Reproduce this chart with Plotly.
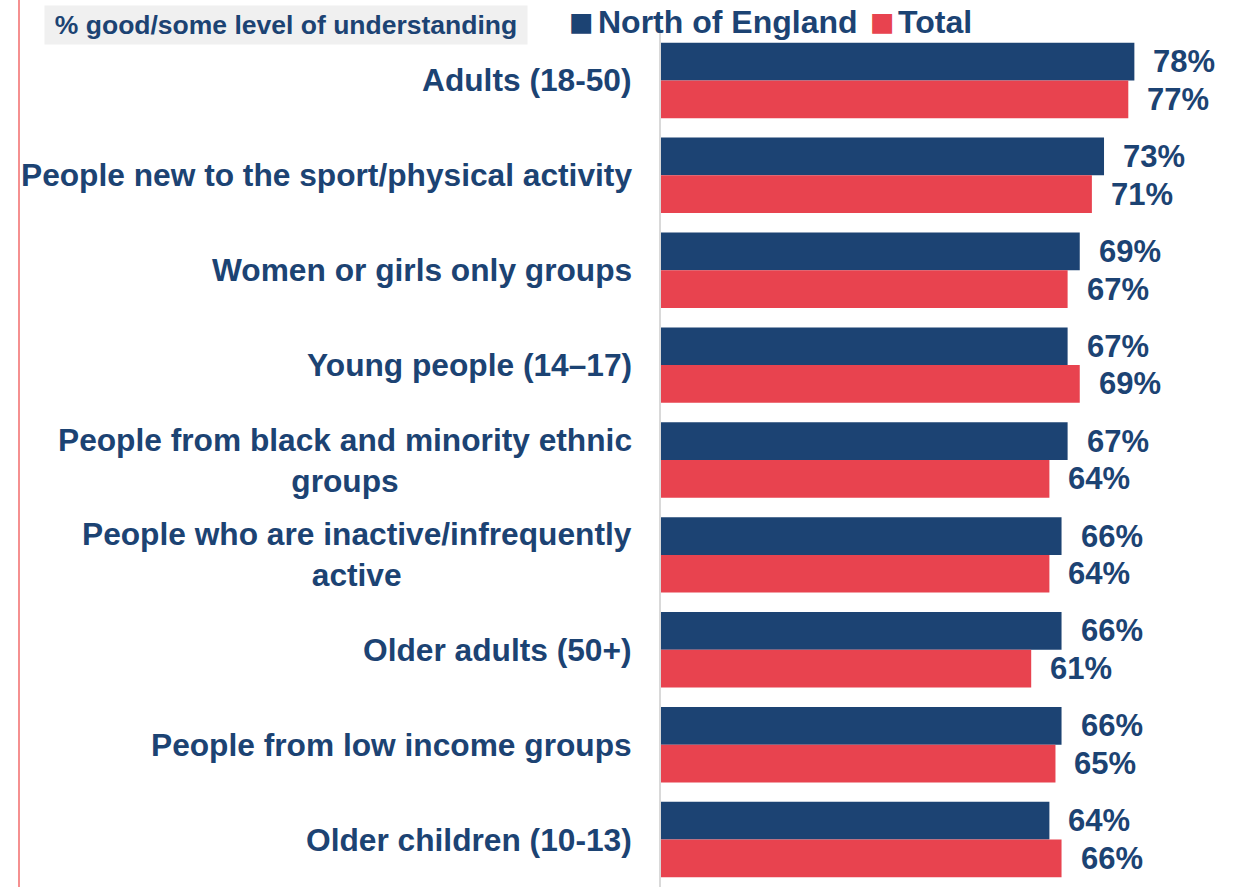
import plotly.graph_objects as go

# Survey results: share reporting a good/some level of understanding
categories = [
    "Adults (18-50)",
    "People new to the sport/physical activity",
    "Women or girls only groups",
    "Young people (14–17)",
    "People from black and minority ethnic<br>groups",
    "People who are inactive/infrequently<br>active",
    "Older adults (50+)",
    "People from low income groups",
    "Older children (10-13)",
]
north_of_england = [78, 73, 69, 67, 67, 66, 66, 66, 64]
total = [77, 71, 67, 69, 64, 64, 61, 65, 66]

series_names = ["North of England", "Total"]
series_values = [north_of_england, total]

# Styling
NAVY = "#1c4373"
RED = "#e8434f"
TEXT = "#1c4373"
FONT = "Liberation Sans, Arial, sans-serif"

W, H = 1243, 887
M_L, M_R, M_T, M_B = 661, 0, 33, 0
PLOT_W = W - M_L - M_R
PLOT_H = H - M_T - M_B
X_MAX = 95.9


def paper_x(px):
    return (px - M_L) / PLOT_W


def paper_y(py):
    return 1 - (py - M_T) / PLOT_H


fig = go.Figure()
for name, vals, col in zip(series_names, series_values, [NAVY, RED]):
    fig.add_trace(go.Bar(
        name=name,
        y=categories,
        x=vals,
        orientation="h",
        marker=dict(color=col, line=dict(width=0)),
        showlegend=False,
    ))

# Category labels, centred line by line, right edge just left of the axis
for cat in categories:
    fig.add_annotation(
        x=0, y=cat, xref="paper", yref="y",
        text=cat, showarrow=False,
        xanchor="right", yanchor="middle", align="center",
        xshift=-27,
        font=dict(family=FONT, size=31.7, color=TEXT, weight="bold"),
    )

# Value labels beside each bar
band = PLOT_H / len(categories)
bar_h = band * (1 - 0.205) / 2
for vals, dy in zip(series_values, [bar_h / 2, -bar_h / 2]):
    for cat, v in zip(categories, vals):
        fig.add_annotation(
            x=v, y=cat, xref="x", yref="y",
            text=f"{v}%", showarrow=False,
            xanchor="left", yanchor="middle",
            xshift=17, yshift=dy,
            font=dict(family=FONT, size=31, color=TEXT, weight="bold"),
        )

# Header box
fig.add_annotation(
    x=paper_x(44), y=paper_y(25), xref="paper", yref="paper",
    xanchor="left", yanchor="middle",
    text="% good/some level of understanding", showarrow=False,
    width=482, height=38, align="center", valign="middle",
    bgcolor="#f0f0f0", borderpad=0,
    font=dict(family=FONT, size=26.5, color=TEXT, weight="bold"),
)

# Legend: colour key squares and series names
for label, col, key_px, text_px in [
    ("North of England", NAVY, 567, 596),
    ("Total", RED, 868, 896),
]:
    fig.add_annotation(
        x=paper_x(key_px), y=paper_y(22), xref="paper", yref="paper",
        xanchor="left", yanchor="middle", showarrow=False,
        text="■",
        font=dict(family=FONT, size=41, color=col),
    )
    fig.add_annotation(
        x=paper_x(text_px), y=paper_y(22), xref="paper", yref="paper",
        xanchor="left", yanchor="middle", showarrow=False,
        text=label,
        font=dict(family=FONT, size=32, color=TEXT, weight="bold"),
    )

# Left rule
fig.add_shape(
    type="line", xref="paper", yref="paper",
    x0=paper_x(19), x1=paper_x(19), y0=paper_y(H + 5), y1=paper_y(-5),
    line=dict(color="#f26b6b", width=1.5),
)

fig.update_layout(
    width=W, height=H,
    margin=dict(l=M_L, r=M_R, t=M_T, b=M_B, pad=0),
    barmode="group",
    bargap=0.205,
    bargroupgap=0,
    plot_bgcolor="white",
    paper_bgcolor="white",
    showlegend=False,
)
fig.update_xaxes(
    range=[0, X_MAX], visible=False, showgrid=False, zeroline=False,
)
fig.update_yaxes(
    autorange="reversed",
    showgrid=False, zeroline=False,
    showline=True, linecolor="#d9d9d9", linewidth=1.5,
    ticks="", showticklabels=False,
)

fig.write_html("out.html")
